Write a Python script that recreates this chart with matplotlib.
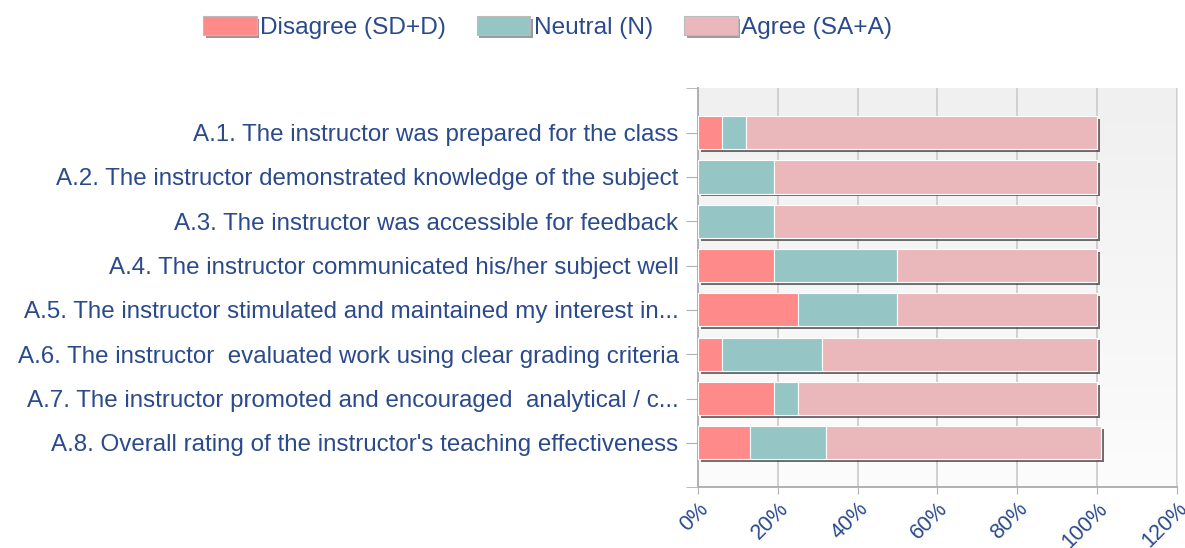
import matplotlib

matplotlib.use("Agg")

import matplotlib.patheffects as pe
import matplotlib.pyplot as plt
import numpy as np
from matplotlib.patches import Patch

QUESTIONS = [
    "A.1. The instructor was prepared for the class",
    "A.2. The instructor demonstrated knowledge of the subject",
    "A.3. The instructor was accessible for feedback",
    "A.4. The instructor communicated his/her subject well",
    "A.5. The instructor stimulated and maintained my interest in...",
    "A.6. The instructor  evaluated work using clear grading criteria",
    "A.7. The instructor promoted and encouraged  analytical / c...",
    "A.8. Overall rating of the instructor's teaching effectiveness",
]
DISAGREE = [6, 0, 0, 19, 25, 6, 19, 13]
NEUTRAL = [6, 19, 19, 31, 25, 25, 6, 19]
AGREE = [88, 81, 81, 50, 50, 69, 75, 69]
SERIES_LABELS = ["Disagree (SD+D)", "Neutral (N)", "Agree (SA+A)"]
SERIES_COLORS = ["#ff8a8a", "#96c5c6", "#eab8bb"]
X_TICKS = [0, 20, 40, 60, 80, 100, 120]

TEXT_COLOR = "#2b4a8c"

plt.rcParams["font.family"] = ["Liberation Sans", "DejaVu Sans"]

fig = plt.figure(figsize=(11.85, 5.48), dpi=100)
ax = fig.add_axes([0.589, 0.111, 0.404, 0.728])

# soft vertical gradient behind the plot
grad = np.linspace(0, 1, 256).reshape(-1, 1)
ax.imshow(
    grad,
    extent=(0, 1, 0, 1),
    transform=ax.transAxes,
    cmap=matplotlib.colors.LinearSegmentedColormap.from_list("bg", ["#fcfcfc", "#f0f0f0"]),
    aspect="auto",
    origin="lower",
    zorder=0,
)

y = np.arange(len(QUESTIONS))
shadow = [pe.SimplePatchShadow(offset=(2, -2), shadow_rgbFace="#333333", alpha=0.7), pe.Normal()]
left = np.zeros(len(QUESTIONS))
for values, label, color in zip([DISAGREE, NEUTRAL, AGREE], SERIES_LABELS, SERIES_COLORS):
    vals = np.asarray(values, dtype=float)
    bars = ax.barh(
        y, vals, left=left, height=0.75, color=color, edgecolor="white",
        linewidth=0.8, zorder=3, label=label,
    )
    for bar, v in zip(bars, vals):
        if v > 0:
            bar.set_path_effects(shadow)
    left += vals

ax.set_xlim(0, 120)
ax.set_ylim(len(QUESTIONS), -1)
ax.set_xticks(X_TICKS)
ax.set_xticklabels([f"{t}%" for t in X_TICKS], rotation=45, ha="right", rotation_mode="anchor",
                   fontsize=15.5, color=TEXT_COLOR)
ax.set_yticks(y)
ax.set_yticklabels(QUESTIONS, fontsize=17.4, color=TEXT_COLOR)
ax.set_yticks([-1, len(QUESTIONS)], minor=True)
ax.tick_params(axis="y", which="both", length=9, color="#b0b0b0", pad=5)
ax.tick_params(axis="x", length=5, color="#b0b0b0", pad=3)
ax.grid(axis="x", color="#d0d0d0", linewidth=1.4, zorder=1)
ax.set_axisbelow(True)

for side in ["left", "bottom"]:
    ax.spines[side].set_color("#b0b0b0")
    ax.spines[side].set_linewidth(1.4)
ax.spines["right"].set_color("#e2e2e2")
ax.spines["top"].set_visible(False)

handles = [
    Patch(facecolor=c, edgecolor="#bbbbbb", linewidth=0.8,
          path_effects=[pe.SimplePatchShadow(offset=(2, -2), alpha=0.5), pe.Normal()])
    for c in SERIES_COLORS
]
leg = fig.legend(
    handles, SERIES_LABELS, loc="center", bbox_to_anchor=(0.462, 0.95), ncol=3,
    frameon=False, fontsize=17.6, handlelength=2.2, handleheight=0.85,
    handletextpad=0.15, columnspacing=1.25,
)
for text in leg.get_texts():
    text.set_color(TEXT_COLOR)

fig.savefig("out.png", dpi=100, facecolor="white")
